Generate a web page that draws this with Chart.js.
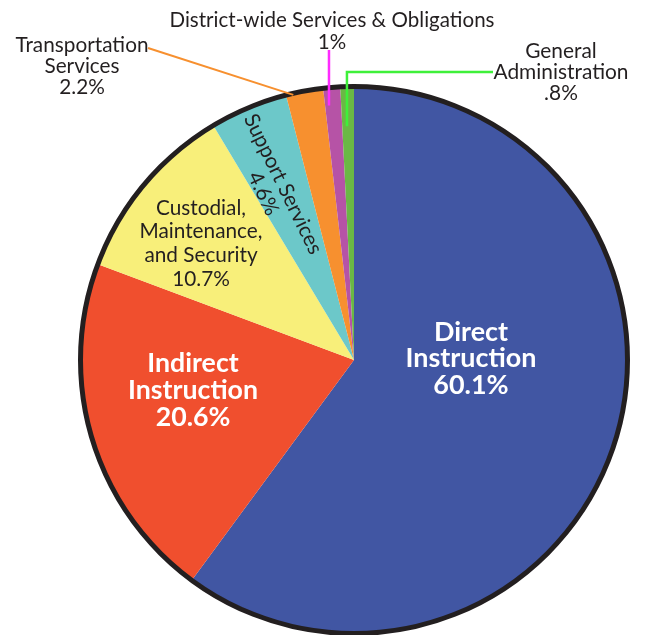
<!DOCTYPE html>
<html>
<head>
<meta charset="utf-8">
<script src="https://cdn.jsdelivr.net/npm/chart.js@4/dist/chart.umd.min.js"></script>
<style>
    html, body { margin: 0; padding: 0; background: #fff; }
    #wrap { width: 645px; height: 635px; }
</style>
</head>
<body>
<div id="wrap"><canvas id="budgetChart" width="645" height="635"></canvas></div>
<script>
// budget shares, clockwise from 12 o'clock
const categories = [
    'Direct Instruction',
    'Indirect Instruction',
    'Custodial, Maintenance, and Security',
    'Support Services',
    'Transportation Services',
    'District-wide Services & Obligations',
    'General Administration'
];
const shares = [60.1, 20.6, 10.7, 4.6, 2.2, 1.0, 0.8];
const shareLabels = ['60.1%', '20.6%', '10.7%', '4.6%', '2.2%', '1%', '.8%'];
const sliceColors = ['#4156a3', '#f04f2e', '#f8ef7a', '#6cc8c9', '#f7902f', '#b653a6', '#6ab845'];

// how each label is set (text lines, where, how big)
const labelStyles = [
    { lines: ['Direct', 'Instruction', shareLabels[0]], x: 471, y: 332, lh: 26.5, font: 'bold 27px Lato', color: '#fff', width: 131 },
    { lines: ['Indirect', 'Instruction', shareLabels[1]], x: 193, y: 363.5, lh: 26.8, font: 'bold 27px Lato', color: '#fff', width: 130 },
    { lines: ['Custodial,', 'Maintenance,', 'and Security', shareLabels[2]], x: 201, y: 208, lh: 23.7, font: '21px Lato', color: '#231f20', width: 123 },
    { lines: ['Support Services', shareLabels[3]], x: 283, y: 184, lh: 22, font: '21px Lato', color: '#231f20', width: 153, rotate: 64 },
    { lines: ['Transportation', 'Services', shareLabels[4]], x: 82, y: 45, lh: 21, font: '22px Lato', color: '#231f20', width: 133 },
    { lines: ['District-wide Services & Obligations', shareLabels[5]], x: 332, y: 20, lh: 22, font: '22px Lato', color: '#231f20', width: 325 },
    { lines: ['General', 'Administration', shareLabels[6]], x: 561, y: 51, lh: 21, font: '22px Lato', color: '#231f20', width: 135 }
];

// leader lines: start inside the slice (fraction along the arc, fraction of radius), then go to the label
const leaders = [
    { index: 4, frac: 0.19, r: 1.0, path: [[148, 48]], color: '#f7902f', width: 2 },
    { index: 5, frac: 0.24, r: 0.94, path: [[null, 50]], color: '#ff2bff', width: 2.5 },
    { index: 6, frac: 0.4, r: 0.86, path: [[null, 72], [493, 72]], color: '#3ef03a', width: 2.5 }
];

const labelPlugin = {
    id: 'sliceLabels',
    afterDatasetsDraw(chart) {
        const ctx = chart.ctx;
        const arcs = chart.getDatasetMeta(0).data;
        const cx = arcs[0].x, cy = arcs[0].y, R = arcs[0].outerRadius;

        ctx.save();
        // black rim
        ctx.beginPath();
        ctx.arc(cx, cy, R + 1.5, 0, Math.PI * 2);
        ctx.lineWidth = 5;
        ctx.strokeStyle = '#231f20';
        ctx.stroke();

        leaders.forEach(function (l) {
            const arc = arcs[l.index];
            const a = arc.startAngle + l.frac * (arc.endAngle - arc.startAngle);
            let px = cx + Math.cos(a) * R * l.r;
            let py = cy + Math.sin(a) * R * l.r;
            ctx.beginPath();
            ctx.moveTo(px, py);
            l.path.forEach(function (p) {
                px = p[0] === null ? px : p[0];
                py = p[1] === null ? py : p[1];
                ctx.lineTo(px, py);
            });
            ctx.lineWidth = l.width;
            ctx.strokeStyle = l.color;
            ctx.stroke();
        });

        labelStyles.forEach(function (s) {
            ctx.save();
            ctx.font = s.font;
            ctx.fillStyle = s.color;
            ctx.textAlign = 'center';
            ctx.textBaseline = 'middle';
            let widest = 0;
            s.lines.forEach(function (t) { widest = Math.max(widest, ctx.measureText(t).width); });
            // squeeze/stretch so the widest line matches the original width
            const sx = s.width / widest;
            ctx.translate(s.x, s.y);
            if (s.rotate) ctx.rotate(s.rotate * Math.PI / 180);
            ctx.scale(sx, 1);
            s.lines.forEach(function (t, i) {
                ctx.fillText(t, 0, i * s.lh);
            });
            ctx.restore();
        });
        ctx.restore();
    }
};

let ctx = document.getElementById('budgetChart').getContext('2d');
let budgetPie = new Chart(ctx, {
    type: 'pie',
    data: {
        labels: categories,
        datasets: [{
            data: shares,
            backgroundColor: sliceColors,
            borderWidth: 0,
            hoverOffset: 0
        }]
    },
    options: {
        responsive: false,
        animation: false,
        events: [],
        layout: { padding: { left: 82, right: 19, top: 88, bottom: 3 } },
        plugins: {
            legend: { display: false },
            tooltip: { enabled: false }
        }
    },
    plugins: [labelPlugin]
});
</script>
</body>
</html>
